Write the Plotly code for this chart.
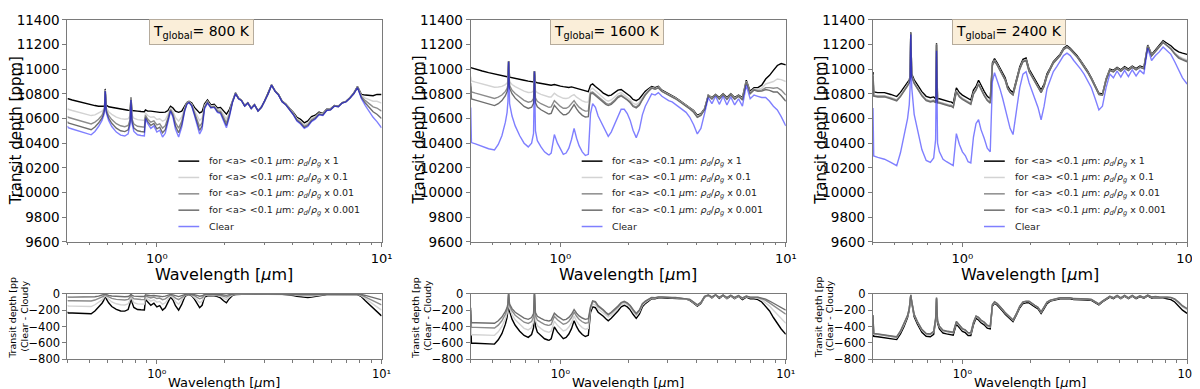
"""Transit depth spectra at three global temperatures: cloudy models vs clear,
with the clear - cloudy residual underneath each panel."""

import math

import plotly.graph_objects as go


# ━━━ DATA ━━━━━━━━━━━━━━━━━━━━━━━━━━━━━━━━━━━━━━━━━━━━━━━━━━━

WAVELENGTH = [
    0.400, 0.403, 0.42, 0.45, 0.48, 0.51, 0.53, 0.55, 0.57, 0.58,
    0.585, 0.589, 0.595, 0.61, 0.63, 0.66, 0.69, 0.72, 0.745, 0.76,
    0.767, 0.775, 0.79, 0.82, 0.85, 0.88, 0.89, 0.91, 0.94, 0.97,
    1.00, 1.03, 1.06, 1.09, 1.12, 1.15, 1.18, 1.21, 1.25, 1.29,
    1.33, 1.36, 1.39, 1.43, 1.47, 1.51, 1.55, 1.59, 1.63, 1.68,
    1.74, 1.80, 1.86, 1.92, 1.98, 2.04, 2.10, 2.17, 2.24, 2.31,
    2.38, 2.46, 2.54, 2.63, 2.72, 2.82, 2.92, 3.02, 3.13, 3.24,
    3.36, 3.48, 3.61, 3.75, 3.90, 4.05, 4.20, 4.36, 4.53, 4.70,
    4.88, 5.07, 5.27, 5.48, 5.70, 5.93, 6.17, 6.42, 6.68, 6.95,
    7.23, 7.52, 7.82, 8.14, 8.47, 8.81, 9.17, 9.54, 10.0,
]

# T_global = 800 K
CLEAR_800 = [
    10540, 10525, 10515, 10500, 10485, 10468, 10495, 10535, 10585, 10625,
    10670, 10820, 10650, 10585, 10535, 10490, 10465, 10458, 10475, 10550,
    10750, 10560, 10495, 10468, 10462, 10458, 10600, 10560, 10520, 10540,
    10490, 10505, 10450, 10480, 10570, 10660, 10610, 10515, 10450, 10530,
    10660, 10715, 10730, 10700, 10625, 10545, 10475, 10515, 10680, 10725,
    10685, 10690, 10650, 10640, 10575, 10525, 10610, 10730, 10800, 10760,
    10745, 10700, 10725, 10680, 10710, 10660, 10690, 10740, 10800, 10870,
    10820, 10790, 10735, 10710, 10670, 10630, 10580, 10555, 10520, 10535,
    10575, 10595, 10630, 10625, 10665, 10670, 10700, 10695, 10725, 10735,
    10765, 10800, 10850, 10760, 10705, 10655, 10610, 10575, 10525,
]
DIFF_800_X1 = [
    -220, -235, -235, -235, -237, -244, -210, -165, -115, -80,
    -30, -20, -60, -110, -155, -190, -210, -212, -192, -115,
    -20, -105, -167, -192, -195, -197, -70, -100, -140, -115,
    -160, -145, -200, -172, -95, -40, -75, -145, -200, -130,
    -40, -15, -10, -25, -65, -120, -170, -140, -40, -25,
    -25, -25, -35, -50, -85, -110, -60, -20, -8, -5,
    -4, -5, -3, -4, -3, -4, -3, -3, -2, -3,
    -4, -5, -6, -8, -12, -20, -30, -38, -45, -45,
    -40, -32, -22, -15, -10, -8, -6, -5, -4, -4,
    -4, -5, -10, -35, -85, -130, -175, -220, -270,
]
DIFF_800_X01 = [
    -140, -150, -150, -150, -152, -156, -134, -106, -74, -51,
    -19, -13, -38, -70, -99, -122, -134, -136, -123, -74,
    -13, -67, -107, -123, -125, -126, -45, -64, -90, -74,
    -102, -93, -128, -110, -61, -26, -48, -93, -128, -83,
    -26, -10, -6, -16, -42, -77, -109, -90, -26, -16,
    -16, -16, -22, -32, -54, -70, -38, -13, -5, -3,
    -3, -3, -2, -3, -2, -3, -2, -2, -1, -2,
    -3, -3, -4, -5, -8, -13, -19, -24, -29, -29,
    -26, -20, -14, -10, -6, -5, -4, -3, -3, -3,
    -3, -3, -7, -25, -60, -95, -130, -165, -200,
]
DIFF_800_X001 = [
    -78, -85, -85, -85, -85, -88, -76, -59, -41, -29,
    -11, -7, -22, -40, -56, -68, -76, -76, -69, -41,
    -7, -38, -60, -69, -70, -71, -25, -36, -50, -41,
    -58, -52, -72, -62, -34, -14, -27, -52, -72, -47,
    -14, -5, -4, -9, -23, -43, -61, -50, -14, -9,
    -9, -9, -13, -18, -31, -40, -22, -7, -3, -2,
    -2, -2, -1, -2, -1, -2, -1, -1, -1, -1,
    -2, -2, -2, -3, -4, -7, -11, -14, -16, -16,
    -14, -12, -8, -5, -4, -3, -2, -2, -2, -2,
    -2, -2, -4, -16, -40, -62, -85, -110, -135,
]
DIFF_800_X0001 = [
    -36, -40, -40, -40, -40, -41, -36, -28, -20, -14,
    -5, -3, -10, -19, -26, -32, -36, -36, -33, -20,
    -3, -18, -28, -33, -33, -33, -12, -17, -24, -20,
    -27, -25, -34, -29, -16, -7, -13, -25, -34, -22,
    -7, -3, -2, -4, -11, -20, -29, -24, -7, -4,
    -4, -4, -6, -9, -14, -19, -10, -3, -1, -1,
    -1, -1, -1, -1, -1, -1, -1, -1, -1, -1,
    -1, -1, -1, -1, -2, -3, -5, -6, -8, -8,
    -7, -5, -4, -3, -2, -1, -1, -1, -1, -1,
    -1, -1, -2, -8, -20, -33, -45, -60, -75,
]

# T_global = 1600 K
CLEAR_1600 = [
    10690, 10405, 10395, 10375, 10355, 10345, 10390, 10460, 10570, 10650,
    10740, 11060, 10720, 10620, 10540, 10460, 10400, 10370, 10400, 10480,
    10980, 10500, 10420, 10370, 10330, 10310, 10305, 10320, 10470, 10400,
    10350, 10310, 10320, 10360, 10430, 10520, 10440, 10380, 10330, 10300,
    10310, 10640, 10720, 10690, 10620, 10580, 10530, 10490, 10455, 10490,
    10550, 10620, 10675, 10675, 10640, 10585, 10505, 10445, 10510, 10630,
    10700, 10750, 10800, 10790, 10810, 10780, 10760, 10745, 10735, 10715,
    10690, 10670, 10650, 10610, 10550, 10475, 10520, 10640, 10770, 10720,
    10780, 10715, 10780, 10710, 10775, 10710, 10760, 10700, 10870, 10760,
    10790, 10780, 10770, 10770, 10740, 10700, 10670, 10615, 10540,
]
DIFF_1600_X1 = [
    -322, -605, -605, -610, -617, -615, -563, -487, -371, -288,
    -200, -5, -215, -310, -385, -457, -510, -533, -498, -416,
    -5, -394, -470, -515, -550, -565, -568, -550, -405, -466,
    -512, -548, -534, -492, -426, -330, -402, -455, -498, -522,
    -508, -230, -160, -170, -225, -245, -275, -305, -330, -300,
    -260, -210, -160, -140, -160, -195, -250, -300, -250, -160,
    -120, -90, -60, -60, -50, -50, -55, -55, -55, -55,
    -60, -60, -65, -80, -115, -150, -120, -40, -20, -50,
    -15, -55, -20, -60, -25, -60, -30, -70, -40, -60,
    -60, -70, -100, -150, -210, -290, -360, -430, -495,
]
DIFF_1600_X01 = [
    -250, -500, -500, -505, -510, -508, -465, -400, -305, -238,
    -165, -4, -178, -256, -318, -378, -422, -441, -412, -344,
    -4, -326, -389, -426, -455, -467, -470, -455, -335, -386,
    -424, -454, -442, -407, -353, -273, -333, -377, -413, -434,
    -423, -195, -125, -135, -185, -205, -235, -260, -285, -260,
    -225, -180, -135, -115, -135, -168, -220, -268, -222, -140,
    -105, -80, -52, -53, -44, -44, -49, -49, -50, -50,
    -55, -55, -60, -74, -108, -142, -113, -36, -18, -44,
    -13, -48, -17, -52, -21, -52, -25, -60, -33, -50,
    -50, -55, -75, -110, -150, -200, -250, -300, -360,
]
DIFF_1600_X001 = [
    -200, -411, -411, -415, -420, -418, -383, -330, -250, -195,
    -135, -3, -146, -210, -262, -310, -347, -362, -339, -283,
    -3, -268, -320, -350, -374, -384, -386, -374, -275, -317,
    -348, -373, -363, -335, -290, -225, -275, -312, -342, -360,
    -352, -170, -95, -105, -155, -175, -205, -235, -260, -235,
    -200, -160, -115, -98, -118, -150, -200, -248, -205, -128,
    -95, -73, -48, -49, -40, -41, -46, -46, -47, -47,
    -52, -52, -57, -70, -104, -137, -108, -33, -16, -40,
    -12, -44, -15, -47, -19, -47, -22, -54, -29, -44,
    -44, -45, -60, -80, -110, -145, -180, -215, -250,
]
DIFF_1600_X0001 = [
    -170, -354, -354, -357, -360, -360, -330, -285, -215, -168,
    -117, -3, -126, -181, -225, -267, -298, -312, -291, -243,
    -3, -230, -275, -301, -322, -330, -332, -322, -237, -273,
    -300, -321, -312, -288, -250, -193, -238, -270, -296, -312,
    -305, -160, -85, -95, -145, -165, -195, -225, -250, -225,
    -190, -150, -108, -92, -110, -142, -192, -240, -198, -122,
    -90, -70, -46, -47, -38, -39, -44, -44, -45, -45,
    -50, -50, -55, -68, -101, -134, -105, -31, -15, -38,
    -11, -42, -14, -45, -18, -45, -21, -51, -27, -41,
    -41, -40, -52, -65, -88, -115, -145, -170, -200,
]

# T_global = 2400 K
CLEAR_2400 = [
    10686, 10296, 10285, 10270, 10245, 10218, 10322, 10450, 10600, 10712,
    10850, 11280, 10850, 10634, 10504, 10348, 10260, 10244, 10280, 10430,
    11150, 10400, 10330, 10270, 10250, 10235, 10230, 10218, 10478, 10390,
    10330, 10300, 10250, 10240, 10450, 10560, 10590, 10510, 10440, 10360,
    10330, 10900, 10971, 10910, 10840, 10764, 10680, 10582, 10520, 10470,
    10650, 10850, 10960, 10980, 10890, 10820, 10760, 10690, 10590, 10700,
    10842, 10920, 10980, 11020, 11060, 11110, 11130, 11110, 11070, 11040,
    11000, 10960, 10910, 10850, 10760, 10670, 10700, 10850, 10960, 10930,
    10985, 10935, 10990, 10940, 10995, 10945, 10990, 10960, 11170, 11070,
    11110, 11140, 11180, 11150, 11120, 11060, 10990, 10930, 10880,
]
DIFF_2400_X1 = [
    -291, -520, -525, -540, -550, -560, -490, -400, -290, -200,
    -100, -20, -110, -280, -370, -470, -520, -525, -495, -330,
    -60, -360, -430, -480, -490, -500, -505, -505, -370, -420,
    -460, -475, -510, -510, -380, -300, -320, -355, -380, -420,
    -430, -150, -115, -140, -170, -210, -250, -280, -310, -340,
    -260, -170, -120, -110, -110, -140, -160, -185, -240, -180,
    -120, -90, -80, -70, -60, -60, -60, -60, -70, -70,
    -70, -70, -75, -80, -110, -135, -100, -70, -40, -60,
    -30, -60, -30, -60, -30, -60, -35, -55, -25, -50,
    -45, -50, -50, -60, -70, -100, -150, -200, -240,
]
DIFF_2400_X01 = [
    -270, -495, -500, -515, -525, -535, -465, -378, -272, -185,
    -90, -15, -98, -260, -348, -445, -495, -500, -470, -308,
    -50, -338, -405, -455, -465, -475, -480, -480, -348, -395,
    -435, -450, -485, -485, -358, -280, -298, -332, -355, -395,
    -405, -138, -102, -126, -155, -195, -235, -265, -295, -325,
    -245, -156, -106, -96, -96, -125, -145, -170, -225, -166,
    -106, -82, -72, -62, -52, -52, -52, -52, -62, -62,
    -62, -62, -67, -72, -102, -127, -92, -62, -33, -52,
    -23, -52, -23, -52, -23, -52, -28, -47, -19, -42,
    -37, -42, -40, -45, -50, -72, -115, -160, -195,
]
DIFF_2400_X001 = [
    -265, -490, -495, -510, -520, -530, -460, -372, -268, -182,
    -88, -14, -95, -255, -342, -440, -490, -495, -465, -303,
    -48, -332, -400, -450, -460, -470, -475, -475, -342, -390,
    -430, -445, -480, -480, -352, -275, -292, -326, -350, -390,
    -400, -134, -99, -122, -152, -192, -232, -262, -292, -322,
    -242, -153, -103, -93, -93, -122, -142, -167, -222, -163,
    -103, -80, -70, -60, -50, -50, -50, -50, -60, -60,
    -60, -60, -65, -70, -100, -125, -90, -60, -31, -50,
    -21, -50, -21, -50, -21, -50, -26, -45, -17, -40,
    -35, -40, -38, -42, -46, -67, -108, -152, -185,
]
DIFF_2400_X0001 = [
    -260, -485, -490, -505, -515, -525, -455, -368, -264, -178,
    -85, -13, -92, -250, -337, -435, -485, -490, -460, -298,
    -46, -327, -395, -445, -455, -465, -470, -470, -337, -385,
    -425, -440, -475, -475, -347, -270, -287, -321, -345, -385,
    -395, -130, -96, -120, -150, -190, -230, -260, -290, -320,
    -240, -150, -100, -90, -90, -120, -140, -165, -220, -160,
    -100, -78, -68, -58, -48, -48, -48, -48, -58, -58,
    -58, -58, -63, -68, -98, -123, -88, -58, -29, -48,
    -19, -48, -19, -48, -19, -48, -24, -43, -15, -38,
    -33, -38, -36, -40, -43, -62, -100, -145, -180,
]

TEMPERATURES = ["800", "1600", "2400"]
DUST_FACTORS = ["1", "0.1", "0.01", "0.001"]

Y_TICKS_DEPTH = [9600, 9800, 10000, 10200, 10400, 10600, 10800, 11000, 11200, 11400]
Y_TICKS_DIFF = [-800, -600, -400, -200, 0]
X_TICKS = [1, 10]
X_TICK_TEXT = ["10⁰", "10¹"]
X_MINOR_TICKS = [0.4, 0.5, 0.6, 0.7, 0.8, 0.9, 2, 3, 4, 5, 6, 7, 8, 9]


# ━━━ STYLE ━━━━━━━━━━━━━━━━━━━━━━━━━━━━━━━━━━━━━━━━━━━━━━━━━━

W, H = 1200, 389
FONT = "DejaVu Sans"
AXIS_COLOR = "#7a7a7a"
LEVEL_COLORS = ["#000000", "#d3d3d3", "#8c8c8c", "#6e6e6e"]
CLEAR_COLOR = "rgba(0,0,255,0.5)"

# plot areas in pixels: (left, right) per column, (top, bottom) per row
COLS_PX = [(60, 377), (467, 785), (873, 1190)]
TOP_ROW_PX = (5, 236)
BOTTOM_ROW_PX = (290, 358)
BOX_CENTERS_PX = [195, 605, 1010]
LEGEND_TOP_PX = 152
LEGEND_ROW_PX = 17


def px_x(x):
    return x / W


def px_y(y):
    return 1 - y / H


def legend_label(factor):
    return (f"for &lt;a&gt; &lt;0.1 <i>μ</i>m: <i>ρ<sub>d</sub></i>/"
            f"<i>ρ<sub>g</sub></i> x {factor}")


def label(text, x, y, size, angle=0, anchor="center", **extra):
    """Paper-anchored text placed in pixel coordinates."""
    return dict(text=text, x=px_x(x), y=px_y(y), xref="paper", yref="paper",
                xanchor=anchor, yanchor="middle", textangle=angle,
                showarrow=False, font=dict(size=size, color="black"), **extra)


PANELS = [
    (CLEAR_800, [DIFF_800_X1, DIFF_800_X01, DIFF_800_X001, DIFF_800_X0001]),
    (CLEAR_1600, [DIFF_1600_X1, DIFF_1600_X01, DIFF_1600_X001, DIFF_1600_X0001]),
    (CLEAR_2400, [DIFF_2400_X1, DIFF_2400_X01, DIFF_2400_X001, DIFF_2400_X0001]),
]


# ━━━ FIGURE ━━━━━━━━━━━━━━━━━━━━━━━━━━━━━━━━━━━━━━━━━━━━━━━━━

fig = go.Figure()
layout = {}
annotations = []
shapes = []

for i, (clear, diffs) in enumerate(PANELS):
    top_id = i + 1
    bot_id = i + 4
    tx, ty = f"x{top_id}", f"y{top_id}"
    bx, by = f"x{bot_id}", f"y{bot_id}"

    # cloudy spectra = clear - (clear - cloudy)
    for factor, diff, color in zip(DUST_FACTORS, diffs, LEVEL_COLORS):
        cloudy = [c - d for c, d in zip(clear, diff)]
        fig.add_trace(go.Scatter(
            x=WAVELENGTH, y=cloudy, mode="lines",
            line=dict(color=color, width=1.4),
            name=legend_label(factor), showlegend=False, xaxis=tx, yaxis=ty,
        ))
    fig.add_trace(go.Scatter(
        x=WAVELENGTH, y=clear, mode="lines",
        line=dict(color=CLEAR_COLOR, width=1.4),
        name="Clear", showlegend=False, xaxis=tx, yaxis=ty,
    ))

    for diff, color in zip(diffs, LEVEL_COLORS):
        fig.add_trace(go.Scatter(
            x=WAVELENGTH, y=diff, mode="lines",
            line=dict(color=color, width=1.4),
            showlegend=False, xaxis=bx, yaxis=by,
        ))

    left, right = COLS_PX[i]
    x_domain = [px_x(left), px_x(right)]
    top_domain = [px_y(TOP_ROW_PX[1]), px_y(TOP_ROW_PX[0])]
    bot_domain = [px_y(BOTTOM_ROW_PX[1]), px_y(BOTTOM_ROW_PX[0])]

    frame = dict(
        showline=True, mirror=True, linecolor=AXIS_COLOR, linewidth=1.2,
        ticks="outside", ticklen=4, tickwidth=1, tickcolor=AXIS_COLOR,
        showgrid=False, zeroline=False,
    )
    for axis_id, dom, y_anchor, size in ((top_id, top_domain, ty, 13),
                                         (bot_id, bot_domain, by, 11.5)):
        layout[f"xaxis{axis_id}"] = dict(
            frame, type="log", range=[math.log10(0.4), 1], domain=x_domain,
            anchor=y_anchor, tickvals=X_TICKS, ticktext=X_TICK_TEXT,
            tickfont=dict(size=size, color="black"),
            minor=dict(tickvals=X_MINOR_TICKS, ticks="outside", ticklen=2.5,
                       tickcolor=AXIS_COLOR),
        )
    layout[f"yaxis{top_id}"] = dict(
        frame, range=[9600, 11400], domain=top_domain, anchor=tx,
        tickvals=Y_TICKS_DEPTH, tickformat="d",
        tickfont=dict(size=13.5, color="black"),
    )
    layout[f"yaxis{bot_id}"] = dict(
        frame, range=[-800, 0], domain=bot_domain, anchor=bx,
        tickvals=Y_TICKS_DIFF, tickformat="d",
        tickfont=dict(size=11.5, color="black"),
    )

    # legend drawn by hand so the row pitch matches the original
    entries = [(legend_label(f), c) for f, c in zip(DUST_FACTORS, LEVEL_COLORS)]
    entries.append(("Clear", CLEAR_COLOR))
    for row, (text, color) in enumerate(entries):
        y_row = LEGEND_TOP_PX + row * LEGEND_ROW_PX
        shapes.append(dict(
            type="line", xref="paper", yref="paper",
            x0=px_x(left + 112), x1=px_x(left + 133),
            y0=px_y(y_row), y1=px_y(y_row),
            line=dict(color=color, width=1.5),
        ))
        annotations.append(dict(
            label(text, left + 141, y_row, 9.5, anchor="left"),
            font=dict(size=9.5, color="#222"),
        ))

    mid = (left + right) / 2
    annotations += [
        label(f"T<sub>global</sub>= {TEMPERATURES[i]} K",
              BOX_CENTERS_PX[i], 18, 14, bgcolor="#faeed9",
              bordercolor="#b5ab9c", borderwidth=1, borderpad=3),
        label("Transit depth [ppm]", left - 52, 120, 15, angle=-90),
        label("Wavelength [<i>μ</i>m]", mid, 270, 16),
        label("Transit depth [pp", left - 55, 315, 9.5, angle=-90),
        label("(Clear - Cloudy", left - 43, 313, 9.5, angle=-90),
        label("Wavelength [<i>μ</i>m]", mid, 382, 13),
    ]

fig.update_layout(
    layout,
    width=W, height=H,
    margin=dict(l=0, r=0, t=0, b=0),
    paper_bgcolor="white", plot_bgcolor="white",
    font=dict(family=FONT, color="black"),
    annotations=annotations,
    shapes=shapes,
    showlegend=False,
)

fig.write_html("out.html")
